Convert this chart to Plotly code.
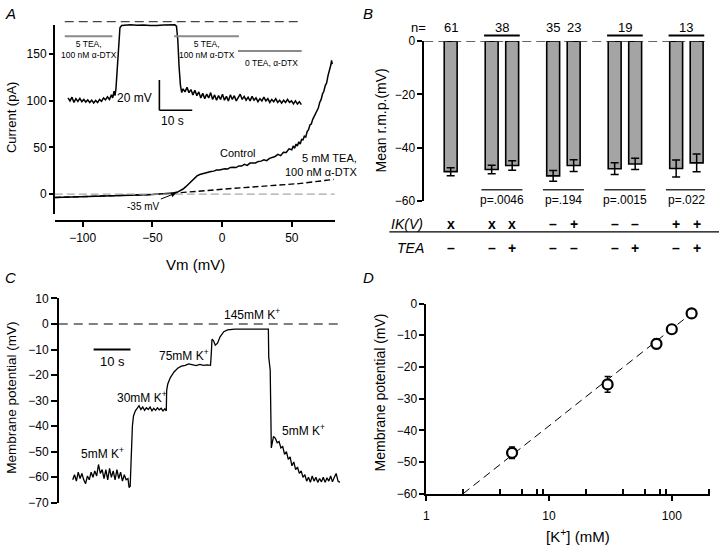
import plotly.graph_objects as go

W, H = 720, 553
FONT = "Liberation Sans, Arial, sans-serif"


def px(x):
    return x / W


def py(y):
    return 1 - y / H


# ---------------- Panel A : I-V curves ----------------
ctrl_v = [-120, -110, -100, -90, -80, -70, -60, -50, -45, -40,
          -35, -32, -30, -28, -26, -24, -22, -20, -18, -16,
          -14, -12, -10, -8, -6, -4, -2, 0, 2, 4,
          6, 8, 10, 12, 14, 16, 18, 20, 22, 24,
          26, 28, 30, 32, 34, 36, 38, 40, 42, 44,
          46, 48, 50, 51, 52, 53, 54, 55, 56, 57,
          58, 59, 60, 61, 62, 63, 64, 65, 66, 67,
          68, 69, 70, 71, 72, 73, 74, 75, 76, 77,
          78, 78.5, 79]
ctrl_i = [-3.5, -3.2, -2.8, -2.4, -1.9, -1.4, -0.9, -0.3, 0.1, 0.5,
          1.2, 2.2, 3.5, 5.5, 8.0, 11.0, 14.5, 17.5, 19.5, 21.0,
          22.0, 22.8, 23.2, 24.2, 24.6, 25.8, 25.9, 26.8, 27.2, 27.0,
          28.6, 28.8, 28.4, 30.2, 30.0, 31.8, 30.8, 33.2, 33.0, 33.4,
          35.0, 35.3, 36.8, 35.8, 38.3, 39.0, 40.3, 42.5, 41.2, 44.8,
          44.6, 48.5, 47.5, 51.5, 49.0, 53.5, 51.5, 56.0, 53.5, 58.5,
          58.0, 62.0, 61.0, 67.0, 69.0, 74.0, 75.0, 80.0, 83.0, 86.0,
          88.0, 92.0, 98.0, 101.0, 107.0, 110.0, 116.0, 119.0, 127.0, 132.0,
          138.0, 143.0, 139.0]
tea_v = [-120, -100, -80, -60, -50, -40, -35, -30, -25, -20,
         -15, -10, -5, 0, 5, 10, 15, 20, 25, 30,
         35, 40, 45, 50, 55, 60, 65, 70, 75, 80]
tea_i = [-3.5, -2.8, -1.9, -0.9, -0.3, 0.4, 0.9, 1.6, 2.2, 2.8,
         3.4, 4.0, 4.6, 5.3, 5.8, 6.3, 6.6, 7.2, 7.6, 8.2,
         8.6, 9.3, 9.8, 10.6, 11.3, 12.1, 13.0, 13.8, 14.8, 15.8]
a_yticks = [0, 50, 100, 150]
a_xticks = [-100, -50, 0, 50]

# inset: membrane potential (mV) vs time (s)
ins_t = [1.0, 1.6, 2.2, 2.8, 3.4, 4.0, 4.6, 5.2, 5.8, 6.4,
         7.0, 7.6, 8.2, 8.8, 9.4, 10.0, 10.6, 11.2, 11.8, 12.4,
         13.0, 13.6, 14.2, 14.6, 15.0, 15.3, 15.6, 16.0, 16.4, 16.8,
         17.3, 18.5, 20.0, 22.0, 24.0, 26.0, 27.0, 28.0, 30.0, 32.0,
         33.5, 34.0, 34.4, 34.8, 35.2, 35.6, 36.0, 36.6, 37.2, 37.8,
         38.4, 39.0, 39.6, 40.2, 40.8, 41.4, 42.0, 42.6, 43.2, 43.8,
         44.4, 45.0, 45.6, 46.2, 46.8, 47.4, 48.0, 48.6, 49.2, 49.8,
         50.4, 51.0, 51.6, 52.2, 52.8, 53.4, 54.0, 54.6, 55.2, 55.8,
         56.4, 57.0, 57.6, 58.2, 58.8, 59.4, 60.0, 60.6, 61.2, 61.8,
         62.4, 63.0, 63.6, 64.2, 64.8, 65.4, 66.0, 66.6, 67.2, 67.8,
         68.4, 69.0, 69.6, 70.2, 70.8, 71.4, 72.0]
ins_v = [-50.5, -52.5, -50.0, -53.5, -51.0, -52.8, -50.8, -53.0, -51.5, -53.2,
         -51.8, -53.5, -52.0, -53.8, -52.2, -53.6, -51.5, -52.8, -50.5, -51.8,
         -49.8, -51.5, -48.5, -50.5, -46.0, -49.0, -44.0, -30.0, -12.0, -4.0,
         -2.6, -2.3, -2.1, -2.4, -2.2, -2.6, -2.8, -2.5, -2.2, -2.3,
         -2.1, -3.0, -12.0, -30.0, -42.0, -47.0, -44.5, -46.5, -43.5, -47.0,
         -45.0, -48.5, -45.5, -49.0, -46.5, -50.5, -47.5, -51.0, -48.0, -50.5,
         -47.0, -51.5, -48.5, -52.0, -49.0, -51.5, -48.0, -52.0, -49.5, -52.5,
         -48.5, -51.5, -49.0, -52.5, -50.0, -48.0, -51.5, -49.5, -52.0, -50.0,
         -52.5, -49.5, -52.0, -50.5, -53.0, -51.0, -52.5, -50.0, -52.5, -51.0,
         -53.5, -51.5, -53.0, -51.0, -53.5, -52.0, -54.0, -52.0, -53.5, -51.5,
         -53.5, -52.5, -54.5, -52.5, -54.5, -53.0, -55.0]
ins_bar_t0 = [0.0, 33.3, 52.7]
ins_bar_t1 = [14.5, 53.0, 72.1]
ins_bar_v = [-9.7, -9.7, -19.4]
ins_bar_text = ["5 TEA,<br>100 nM α-DTX", "5 TEA,<br>100 nM α-DTX", "0 TEA, α-DTX"]
ins_bar_text_t = [7.3, 43.3, 63.0]
ins_bar_text_v = [-18.4, -18.4, -27.7]

# ---------------- Panel B : bars ----------------
bar_x = [0, 2, 3, 5, 6, 8, 9, 11, 12]
bar_mean = [-49.0, -48.2, -46.7, -50.6, -46.7, -47.9, -46.1, -47.8, -45.7]
bar_err = [1.5, 1.6, 1.8, 2.0, 2.2, 2.2, 2.1, 3.2, 3.3]
n_labels = ["61", "38", "35", "23", "19", "13"]
n_pos = [0, 2.5, 5, 6, 8.5, 11.5]
group_pos = [2.5, 8.5, 11.5]
p_labels = ["p=.0046", "p=.194", "p=.0015", "p=.022"]
p_pos = [2.5, 5.5, 8.5, 11.5]
ik_row = ["x", "x", "x", "–", "+", "–", "–", "+", "+"]
tea_row = ["–", "–", "+", "–", "–", "–", "+", "–", "+"]
b_yticks = [-60, -40, -20, 0]

# ---------------- Panel C : K+ steps ----------------
c_t = [0.0, 0.5, 1.0, 1.5, 2.0, 2.5, 3.0, 3.5, 4.0, 4.5,
       5.0, 5.5, 6.0, 6.5, 7.0, 7.5, 8.0, 8.5, 9.0, 9.5,
       10.0, 10.5, 11.0, 11.5, 12.0, 12.5, 13.0, 13.5, 14.0, 14.5,
       15.0, 15.3, 15.6, 15.9, 16.2, 16.5, 17.0, 17.5, 18.0, 18.5,
       19.0, 19.5, 20.0, 20.5, 21.0, 21.5, 22.0, 22.5, 23.0, 23.5,
       24.0, 24.5, 25.0, 25.4, 25.5, 25.8, 26.5, 27.5, 28.5, 29.5,
       30.5, 31.5, 32.5, 33.5, 34.5, 35.5, 36.5, 37.4, 37.6, 37.8,
       38.2, 38.7, 39.3, 40.0, 41.0, 42.0, 44.0, 46.0, 48.0, 50.0,
       52.0, 53.1, 53.2, 53.6, 53.9, 54.2, 54.5, 55.0, 55.5, 56.0,
       56.5, 57.0, 57.5, 58.0, 58.5, 59.0, 59.5, 60.0, 60.5, 61.0,
       61.5, 62.0, 62.5, 63.0, 63.5, 64.0, 64.5, 65.0, 65.5, 66.0,
       66.5, 67.0, 67.5, 68.0, 68.5, 69.0, 69.5, 70.0, 70.5, 71.0,
       71.5, 72.0, 72.5]
c_v = [-61.0, -59.0, -61.5, -58.0, -60.5, -58.5, -61.0, -62.5, -59.5, -61.0,
       -58.0, -60.0, -57.5, -59.5, -55.0, -58.5, -57.0, -60.5, -57.0, -61.0,
       -56.5, -60.0, -57.5, -61.0, -57.0, -60.5, -58.0, -61.5, -59.0, -61.0,
       -60.5, -64.0, -63.5, -50.0, -40.0, -36.0, -34.0, -33.0, -32.0, -33.5,
       -32.5, -33.8, -32.8, -33.5, -32.5, -34.0, -33.0, -33.8, -32.8, -33.6,
       -33.0, -34.0, -33.2, -34.0, -26.0, -23.5, -21.0, -18.8, -17.3, -16.5,
       -16.2, -15.6, -16.0, -16.3, -15.8, -16.2, -16.0, -16.2, -12.0, -6.0,
       -6.5, -8.3, -7.5, -5.0, -3.0, -2.3, -2.0, -2.0, -1.9, -2.0,
       -2.0, -2.0, -13.0, -18.0, -48.5, -46.0, -44.0, -44.8, -46.5, -46.0,
       -48.5, -48.0, -51.0, -50.0, -53.0, -52.0, -55.5, -54.0, -57.0, -56.0,
       -58.5, -57.5, -60.0, -59.0, -61.5, -60.0, -62.0, -59.5, -61.5, -60.0,
       -62.0, -60.5, -61.8, -60.0, -62.0, -60.2, -61.5, -59.5, -61.8, -60.0,
       -58.5, -61.5, -62.0]
c_labels = ["145mM K<sup>+</sup>", "75mM K<sup>+</sup>", "30mM K<sup>+</sup>",
            "5mM K<sup>+</sup>", "5mM K<sup>+</sup>"]
c_label_t = [48.6, 30.3, 18.9, 8.1, 62.7]
c_label_v = [4.0, -12.0, -28.4, -50.6, -41.4]
c_yticks = [-70, -60, -50, -40, -30, -20, -10, 0, 10]

# ---------------- Panel D : Nernst plot ----------------
k_conc = [5, 30, 75, 100, 145]
k_vm = [-47.1, -25.5, -12.7, -8.1, -3.1]
k_err = [1.8, 2.5, 1.5, 1.0, 0.8]
fit_conc = [2, 160]
fit_vm = [-60, -1.75]
d_xticks = [1, 10, 100]
d_minor = [2, 4, 6, 8, 9, 20, 40, 60, 80, 90, 200]
d_yticks = [-60, -50, -40, -30, -20, -10, 0]

fig = go.Figure()

# Panel A traces
fig.add_trace(go.Scatter(x=tea_v, y=tea_i, mode="lines", xaxis="x", yaxis="y",
                         line=dict(color="black", width=1.4, dash="6px,3px")))
fig.add_trace(go.Scatter(x=ctrl_v, y=ctrl_i, mode="lines", xaxis="x", yaxis="y",
                         line=dict(color="black", width=1.5)))
# inset
fig.add_trace(go.Scatter(x=ins_t, y=ins_v, mode="lines", xaxis="x5", yaxis="y5",
                         line=dict(color="black", width=1.5)))
# Panel B
fig.add_trace(go.Bar(x=bar_x, y=bar_mean, width=0.63, xaxis="x2", yaxis="y2",
                     marker=dict(color="#a4a4a4", line=dict(color="black", width=1.6)),
                     error_y=dict(type="data", array=bar_err, color="black",
                                  thickness=1.5, width=4),
                     cliponaxis=False))
# Panel C
fig.add_trace(go.Scatter(x=c_t, y=c_v, mode="lines", xaxis="x3", yaxis="y3",
                         line=dict(color="black", width=1.3)))
# Panel D
fig.add_trace(go.Scatter(x=fit_conc, y=fit_vm, mode="lines", xaxis="x4", yaxis="y4",
                         line=dict(color="black", width=1, dash="8px,5px")))
fig.add_trace(go.Scatter(x=k_conc, y=k_vm, mode="markers", xaxis="x4", yaxis="y4",
                         marker=dict(size=10, color="white", line=dict(color="black", width=2.2)),
                         error_y=dict(type="data", array=k_err, color="black",
                                      thickness=1.5, width=3),
                         cliponaxis=False))

axis_common = dict(showgrid=False, zeroline=False, linecolor="black", linewidth=1.5,
                   tickcolor="black", tickwidth=1.5, ticks="outside",
                   tickfont=dict(size=12, color="black", family=FONT))

shapes = []
ann = []


def note(text, x, y, xref="paper", yref="paper", size=12, **kw):
    d = dict(text=text, xref=xref, yref=yref, x=x, y=y, showarrow=False,
             xanchor="center", yanchor="middle", font=dict(size=size))
    d.update(kw)
    ann.append(d)


# ---- axes
layout = dict(
    xaxis=dict(domain=[px(52), px(333)], range=[-120, 80.7], anchor="free",
               position=py(220), showline=True, ticklen=5, tickvals=a_xticks, **axis_common),
    yaxis=dict(domain=[py(212), py(18)], range=[-20.8, 181.25], anchor="x",
               showline=True, ticklen=4, tickvals=a_yticks, **axis_common),
    xaxis5=dict(domain=[px(52), px(335)], range=[-3.03, 82.73], anchor="y5", visible=False),
    yaxis5=dict(domain=[py(125), py(10)], range=[-70.97, 3.226], anchor="x5", visible=False),
    xaxis2=dict(domain=[px(423), px(705)], range=[-1.29, 12.41], anchor="y2", visible=False),
    yaxis2=dict(domain=[py(199), py(35)], range=[-60, 0], anchor="x2", showline=True,
                ticklen=5, tickvals=b_yticks, **axis_common),
    xaxis3=dict(domain=[px(56), px(340)], range=[-3.78, 72.97], anchor="y3", visible=False),
    yaxis3=dict(domain=[py(508.7), py(299)], range=[-70, 10], anchor="x3", showline=True,
                ticklen=6, tickvals=c_yticks, **axis_common),
    xaxis4=dict(domain=[px(425), px(710)], type="log", range=[0, 2.3115], anchor="y4",
                showline=True, ticklen=6, tickvals=d_xticks, ticktext=[str(v) for v in d_xticks],
                ticklabelstandoff=4,
                minor=dict(tickvals=d_minor, ticks="inside", ticklen=5, tickcolor="black",
                           tickwidth=1.5, showgrid=False),
                **axis_common),
    yaxis4=dict(domain=[py(499.3), py(304.3)], range=[-60, 0], anchor="x4", showline=True,
                ticklen=5, tickvals=d_yticks, **axis_common),
)

# A: zero line
shapes.append(dict(type="line", xref="x domain", yref="y", x0=0, x1=1, y0=0, y1=0,
                   line=dict(color="#a8a8a8", width=1.3, dash="8px,4px")))
# inset: dashed 0 mV line
shapes.append(dict(type="line", xref="x5", yref="y5", x0=0, x1=71.2, y0=0, y1=0,
                   line=dict(color="#444444", width=1.3, dash="9px,5px")))
for t0, t1, v in zip(ins_bar_t0, ins_bar_t1, ins_bar_v):
    shapes.append(dict(type="line", xref="x5", yref="y5", x0=t0, x1=t1, y0=v, y1=v,
                       line=dict(color="#8a8a8a", width=2)))
for txt, t, v in zip(ins_bar_text, ins_bar_text_t, ins_bar_text_v):
    note(txt, t, v, xref="x5", yref="y5", size=8.5)
# inset scale bar: 20 mV, 10 s
sb_t, sb_v = 28.8, -58.7
shapes.append(dict(type="line", xref="x5", yref="y5", x0=sb_t, x1=sb_t, y0=sb_v, y1=sb_v + 20,
                   line=dict(color="black", width=1.6)))
shapes.append(dict(type="line", xref="x5", yref="y5", x0=sb_t, x1=sb_t + 10, y0=sb_v, y1=sb_v,
                   line=dict(color="black", width=1.6)))
note("20 mV", sb_t - 1.5, -50.3, xref="x5", yref="y5", size=12, xanchor="right")
note("10 s", sb_t + 4, -65.8, xref="x5", yref="y5", size=12)

# A labels
note("Control", 10.7, 43.8, xref="x", yref="y", size=11)
note("5 mM TEA,<br>100 nM α-DTX", px(357), py(162), size=11,
     xanchor="right", align="right")
ann.append(dict(text="-35 mV", xref="x", yref="y", x=-33, y=1.2, ax=-33, ay=13,
                showarrow=True, arrowhead=2, arrowsize=1, arrowwidth=1, arrowcolor="black",
                font=dict(size=10)))
note("Current (pA)", px(8), py(113), size=13, textangle=-90)
note("Vm (mV)", px(193), py(264), size=15)

# B decorations
shapes.append(dict(type="line", xref="x2 domain", yref="y2", x0=0, x1=1, y0=0, y1=0,
                   line=dict(color="#333333", width=1.3, dash="9px,5px")))
note("n=", px(417), py(20.7), size=13)
for lab, pos in zip(n_labels, n_pos):
    note(lab, pos, py(20.7), xref="x2", size=13)
for pos in group_pos:
    shapes.append(dict(type="line", xref="x2", yref="paper", x0=pos - 0.87, x1=pos + 0.87,
                       y0=py(29.3), y1=py(29.3), line=dict(color="black", width=2)))
for lab, pos in zip(p_labels, p_pos):
    shapes.append(dict(type="line", xref="x2", yref="paper", x0=pos - 1.0, x1=pos + 1.0,
                       y0=py(187.5), y1=py(187.5), line=dict(color="#333333", width=1.4)))
    note(lab, pos, py(197.5), xref="x2", size=12)
note("<i>IK(V)</i>", px(406), py(223), size=14)
note("<i>TEA</i>", px(409), py(247), size=14)
for s1, s2, pos in zip(ik_row, tea_row, bar_x):
    note("<b>%s</b>" % s1, pos, py(223), xref="x2", size=14)
    note("<b>%s</b>" % s2, pos, py(247), xref="x2", size=14)
shapes.append(dict(type="line", xref="paper", yref="paper", x0=px(388), x1=px(719),
                   y0=py(230.7), y1=py(230.7), line=dict(color="black", width=1.4)))
note("Mean r.m.p.(mV)", px(380), py(116), size=14, textangle=-90)

# C decorations
shapes.append(dict(type="line", xref="x3 domain", yref="y3", x0=0, x1=1, y0=0, y1=0,
                   line=dict(color="black", width=1.2, dash="9px,6px")))
sc_t = 5.68
shapes.append(dict(type="line", xref="x3", yref="y3", x0=sc_t, x1=sc_t + 10, y0=-10, y1=-10,
                   line=dict(color="black", width=2)))
note("10 s", sc_t + 5, -14.6, xref="x3", yref="y3", size=13)
for lab, t, v in zip(c_labels, c_label_t, c_label_v):
    note(lab, t, v, xref="x3", yref="y3", size=12)
note("Membrane potential (mV)", px(9), py(401), size=13.5, textangle=-90)

# D decorations
note("Membrane potential (mV)", px(379), py(395), size=14, textangle=-90)
note("[K<sup>+</sup>] (mM)", px(577), py(542), size=15)

# panel letters
for letter, lx, ly in [("A", 8, 7), ("B", 367, 7), ("C", 8, 278), ("D", 367, 278)]:
    note("<i>%s</i>" % letter, px(lx), py(ly), size=15)

fig.update_layout(
    width=W, height=H, margin=dict(l=0, r=0, t=0, b=0),
    paper_bgcolor="white", plot_bgcolor="rgba(0,0,0,0)",
    showlegend=False, font=dict(family=FONT, color="black", size=12),
    shapes=shapes, annotations=ann, **layout,
)

fig.write_html("out.html", config={"displayModeBar": False},
               post_script="document.body.style.margin='0px';"
                           "document.body.style.padding='0px';"
                           "document.body.style.overflow='hidden';")
